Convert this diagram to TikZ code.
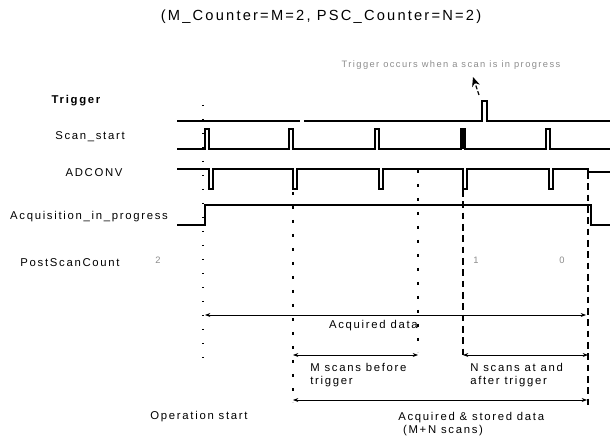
\documentclass[tikz,border=0pt]{standalone}
\usepackage{fontspec}
\setmainfont{Liberation Sans}[LetterSpace=15]
\usetikzlibrary{arrows.meta,positioning}

\begin{document}
\begin{tikzpicture}[
    x=0.75pt, y=-0.75pt, >=Stealth,
    every node/.style={font=\fontsize{8.5}{10}\selectfont, inner sep=1pt},
    cnt/.style={text=black!45, font=\fontsize{7}{8}\selectfont},
    sig/.style={line width=0.8pt},
    dots/.style={line width=1.1pt, dash pattern=on 1.1pt off 9.4pt},
    dashes/.style={line width=1.1pt, dash pattern=on 2.2pt off 8.3pt},
    longdash/.style={line width=1.2pt, dash pattern=on 5pt off 3.5pt},
    dim/.style={{Stealth[length=4pt,width=3pt]}-{Stealth[length=4pt,width=3pt]}, line width=0.6pt},
    txt/.style={align=left, anchor=north west, inner sep=0pt}
  ]
    \useasboundingbox (0,0) rectangle (610,441);

    \node[font=\fontsize{11}{13}\selectfont] (title) at (321,17) {(M\_Counter=M=2, PSC\_Counter=N=2)};
    \node[cnt] (note) at (451,65) {Trigger occurs when a scan is in progress};

    % signal names
    \node[font=\bfseries\fontsize{8.5}{10}\selectfont] (trig) at (76,101) {Trigger};
    \node (scanst)  at (90,137)  {Scan\_start};
    \node (adconv)  at (94,173)  {ADCONV};
    \node (acqprog) at (89,217)  {Acquisition\_in\_progress};
    \node (pscount) at (70,263)  {PostScanCount};

    % waveforms
    \draw[sig] (177,121) -- (300,121);
    \draw[sig] (304,121) -- (482,121) -- (482,101) -- (487,101) -- (487,121) -- (610,121);
    \draw[sig] (177,149) \foreach \x in {205,289,375,461,546} { -- (\x,149) -- (\x,129) -- (\x+4,129) -- (\x+4,149) } -- (610,149);
    \fill (461,129) rectangle (464.5,149);
    \draw[sig] (177,169) \foreach \x in {209,293,379,463,549} { -- (\x,169) -- (\x,189) -- (\x+4,189) -- (\x+4,169) } -- (588,169) -- (588,172) -- (610,172);
    \draw[sig] (177,225) -- (205,225) -- (205,205) -- (591,205) -- (591,225) -- (610,225);

    % post scan count values
    \node[cnt] (cnt2) at (158,260) {2};
    \node[cnt] (cnt1) at (476,260) {1};
    \node[cnt] (cnt0) at (562,260) {0};

    % markers
    \draw[dots]     (203,105) -- (203,370);
    \draw[dashes]   (293,192) -- (293,402);
    \draw[dashes]   (418,170) -- (418,352);
    \draw[longdash] (463,190) -- (463,358);
    \draw[longdash] (588,172) -- (588,408);

    % trigger note
    \coordinate (tpulse) at (479,95);
    \coordinate (ttip) at (473,77);
    \draw[-{Stealth[length=7pt,width=6pt]}, line width=0.9pt, dash pattern=on 3pt off 1.5pt] (tpulse) -- (ttip);

    % spans
    \coordinate (acq-l) at (205,315);  \coordinate (acq-r) at (586,315);
    \coordinate (m-l)   at (293,355);  \coordinate (m-r)   at (418,355);
    \coordinate (n-l)   at (463,355);  \coordinate (n-r)   at (588,355);
    \coordinate (st-l)  at (293,400);  \coordinate (st-r)  at (587,400);
    \draw[dim] (acq-l) -- (acq-r);
    \draw[dim] (m-l) -- (m-r);
    \draw[dim] (n-l) -- (n-r);
    \draw[dim] (st-l) -- (st-r);

    \node[anchor=east, inner sep=0pt] (acqd) at (418,326) {Acquired data};
    \node[txt] (mscan) at (310,363) {M scans before\\trigger};
    \node[txt] (nscan) at (470,363) {N scans at and\\after trigger};
    \node[txt] (stored) at (398,412) {Acquired \& stored data\\\ (M+N scans)};
    \node (opstart) at (199,417) {Operation start};

  \end{tikzpicture}
\end{document}
